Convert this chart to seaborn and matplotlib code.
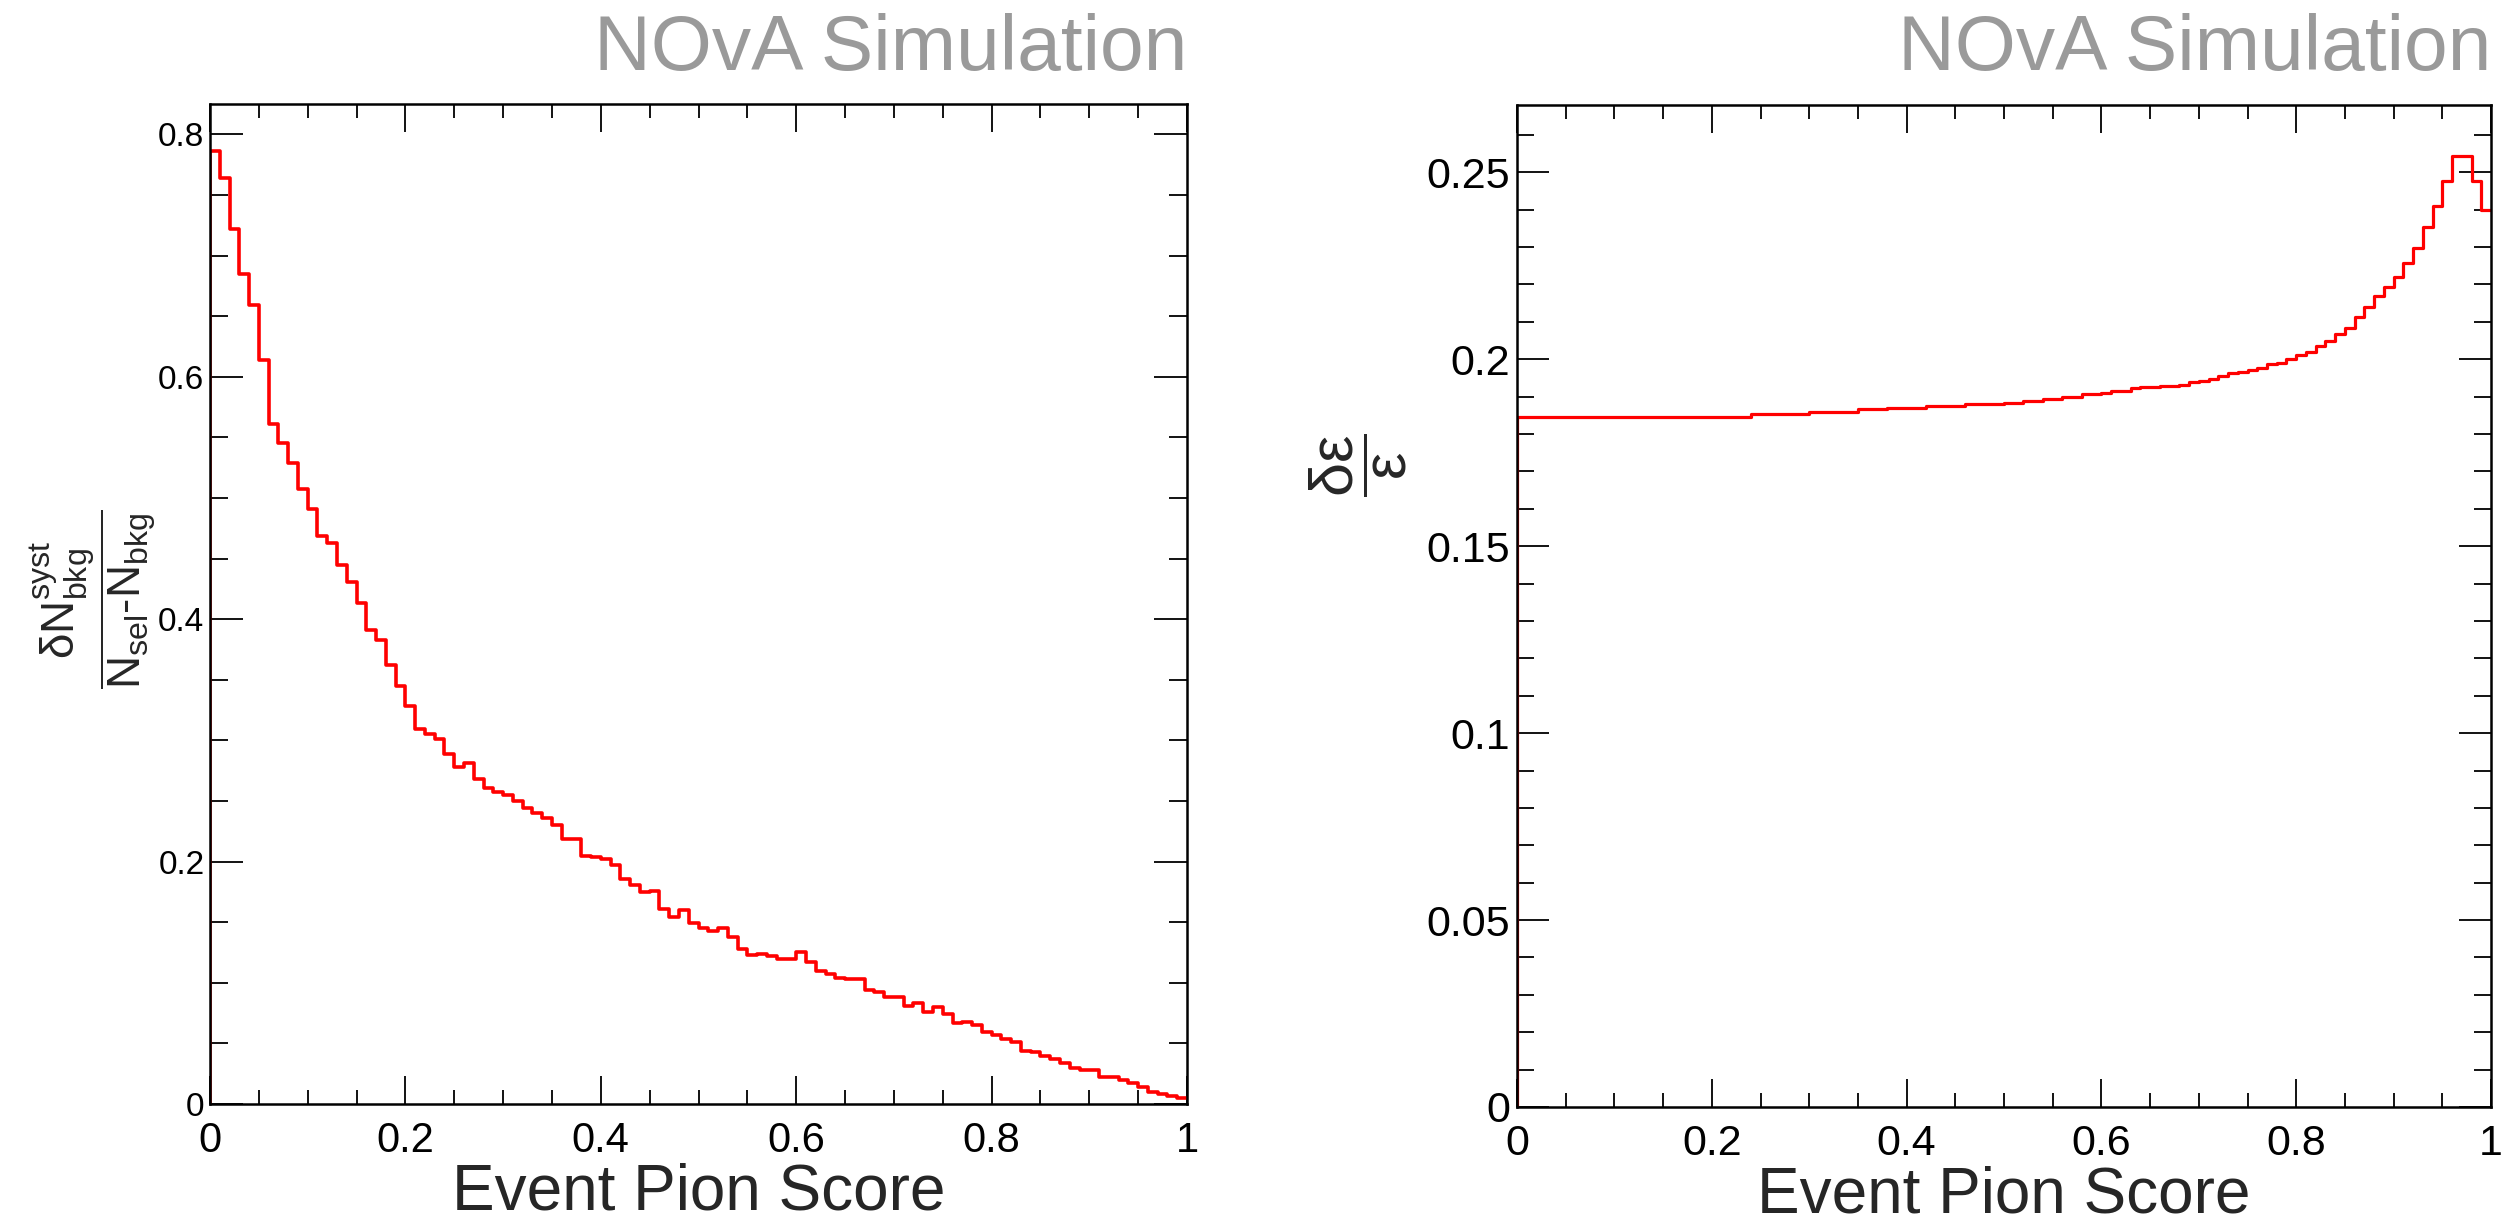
import numpy as np
import pandas as pd
import matplotlib
matplotlib.use("Agg")
import matplotlib.pyplot as plt
from matplotlib.ticker import MultipleLocator, FuncFormatter
import seaborn as sns

# ---------------- data ----------------
bin_lo, bin_hi, n_bins = 0.0, 1.0, 100

bkg_syst_frac = [
    0.786, 0.764, 0.722, 0.685, 0.659, 0.614, 0.561, 0.545, 0.529, 0.507,
    0.491, 0.469, 0.463, 0.445, 0.431, 0.413, 0.391, 0.383, 0.362, 0.345,
    0.328, 0.309, 0.305, 0.301, 0.289, 0.278, 0.281, 0.268, 0.261, 0.257,
    0.255, 0.250, 0.244, 0.240, 0.236, 0.230, 0.219, 0.219, 0.205, 0.204,
    0.202, 0.197, 0.186, 0.181, 0.175, 0.176, 0.161, 0.154, 0.160, 0.149,
    0.145, 0.143, 0.145, 0.138, 0.128, 0.123, 0.124, 0.1225, 0.120, 0.120,
    0.125, 0.117, 0.110, 0.107, 0.104, 0.1035, 0.1035, 0.094, 0.092, 0.088,
    0.088, 0.081, 0.083, 0.0755, 0.080, 0.074, 0.067, 0.068, 0.065, 0.059,
    0.057, 0.054, 0.051, 0.044, 0.043, 0.040, 0.037, 0.034, 0.030, 0.028,
    0.028, 0.0225, 0.022, 0.020, 0.017, 0.014, 0.010, 0.008, 0.0064, 0.0048,
]

eff_syst_frac = [
    0.1846, 0.1846, 0.1846, 0.1846, 0.1846, 0.1846, 0.1846, 0.1846, 0.1846, 0.1846,
    0.1846, 0.1846, 0.1846, 0.1846, 0.1846, 0.1846, 0.1846, 0.1846, 0.1846, 0.1846,
    0.1846, 0.1846, 0.1846, 0.1846, 0.1853, 0.1853, 0.1853, 0.1853, 0.1853, 0.1853,
    0.1860, 0.1860, 0.1860, 0.1860, 0.1860, 0.1866, 0.1866, 0.1866, 0.1870, 0.1870,
    0.1870, 0.1870, 0.1875, 0.1875, 0.1875, 0.1875, 0.1880, 0.1880, 0.1880, 0.1880,
    0.1882, 0.1882, 0.1888, 0.1888, 0.1894, 0.1894, 0.1900, 0.1900, 0.1906, 0.1906,
    0.1911, 0.1916, 0.1916, 0.1922, 0.1925, 0.1925, 0.1928, 0.1928, 0.1932, 0.1938,
    0.1942, 0.1948, 0.1955, 0.1962, 0.1966, 0.1971, 0.1977, 0.1986, 0.1991, 0.2000,
    0.2011, 0.2019, 0.2035, 0.2049, 0.2068, 0.2084, 0.2113, 0.2139, 0.2169, 0.2193,
    0.2219, 0.2257, 0.2298, 0.2355, 0.2411, 0.2476, 0.2544, 0.2544, 0.2476, 0.2400,
]

x_title = "Event Pion Score"
watermark = "NOvA Simulation"
left_ylabel = r"$\dfrac{\mathrm{\delta N}^{\mathrm{syst}}_{\mathrm{bkg}}}{\mathrm{N_{sel}\text{-}N_{bkg}}}$"
right_ylabel = r"$\dfrac{\mathrm{\delta\varepsilon}}{\mathrm{\varepsilon}}$"

# ---------------- style ----------------
sns.set_style("ticks")
plt.rcParams["font.family"] = ["Liberation Sans", "DejaVu Sans"]
plt.rcParams["mathtext.fontset"] = "custom"
plt.rcParams["mathtext.rm"] = "Liberation Sans"
plt.rcParams["mathtext.it"] = "Liberation Sans:italic"
plt.rcParams["mathtext.bf"] = "Liberation Sans:bold"
plt.rcParams["mathtext.sf"] = "Liberation Sans"
plt.rcParams["mathtext.default"] = "regular"

W, H = 2517, 1225
fig = plt.figure(figsize=(W / 100, H / 100), dpi=100)
fig.patch.set_facecolor("white")

ax_l = fig.add_axes([210 / W, 1 - 1104 / H, 977 / W, 1000 / H])
ax_r = fig.add_axes([1517 / W, 1 - 1107 / H, 974 / W, 1002 / H])

edges = np.linspace(bin_lo, bin_hi, n_bins + 1)


def hist_frame(values):
    xs = [bin_lo] + list(edges[:-1]) + [bin_hi]
    ys = [0.0] + list(values) + [values[-1]]
    return pd.DataFrame({"score": xs, "value": ys})


fmt = FuncFormatter(lambda v, p: "%g" % round(v, 4))

for ax, vals, ymax, lw in [(ax_l, bkg_syst_frac, 0.825, 2.6),
                           (ax_r, eff_syst_frac, 0.268, 2.3)]:
    df = hist_frame(vals)
    sns.lineplot(data=df, x="score", y="value", estimator=None, sort=False,
                 drawstyle="steps-post", color="#ff0000", linewidth=lw, ax=ax)
    ax.set_xlim(bin_lo, bin_hi)
    ax.set_ylim(0, ymax)
    for s in ax.spines.values():
        s.set_visible(True)
        s.set_linewidth(1.8)
        s.set_color("black")
    ax.xaxis.set_major_locator(MultipleLocator(0.2))
    ax.xaxis.set_minor_locator(MultipleLocator(0.05))
    ax.xaxis.set_major_formatter(fmt)
    ax.yaxis.set_major_formatter(fmt)
    ax.tick_params(which="both", direction="in", top=True, right=True,
                   colors="black", width=1.3)
    ax.set_xlabel(x_title, fontsize=46, labelpad=1)
    ax.set_ylabel("")
    ax.grid(False)

# left panel ticks
ax_l.yaxis.set_major_locator(MultipleLocator(0.2))
ax_l.yaxis.set_minor_locator(MultipleLocator(0.05))
ax_l.tick_params(axis="x", which="major", length=20, labelsize=30, pad=12)
ax_l.tick_params(axis="x", which="minor", length=10)
ax_l.tick_params(axis="y", which="major", length=24, labelsize=24, pad=4)
ax_l.tick_params(axis="y", which="minor", length=13)

# right panel ticks
ax_r.yaxis.set_major_locator(MultipleLocator(0.05))
ax_r.yaxis.set_minor_locator(MultipleLocator(0.01))
ax_r.tick_params(axis="x", which="major", length=20, labelsize=31, pad=12)
ax_r.tick_params(axis="x", which="minor", length=10)
ax_r.tick_params(axis="y", which="major", length=23, labelsize=31, pad=5)
ax_r.tick_params(axis="y", which="minor", length=12)

# y titles
ax_l.text(-0.12, 0.505, left_ylabel, transform=ax_l.transAxes, rotation=90,
          ha="center", va="center", fontsize=33)
ax_r.text(-0.163, 0.64, right_ylabel, transform=ax_r.transAxes, rotation=90,
          ha="center", va="center", fontsize=44)

# watermarks
for ax in (ax_l, ax_r):
    pos = ax.get_position()
    fig.text(pos.x1, 1 - 70 / H, watermark, ha="right", va="baseline",
             fontsize=56.5, color="#9a9a9a")

fig.savefig("out.png", dpi=100, facecolor="white")
